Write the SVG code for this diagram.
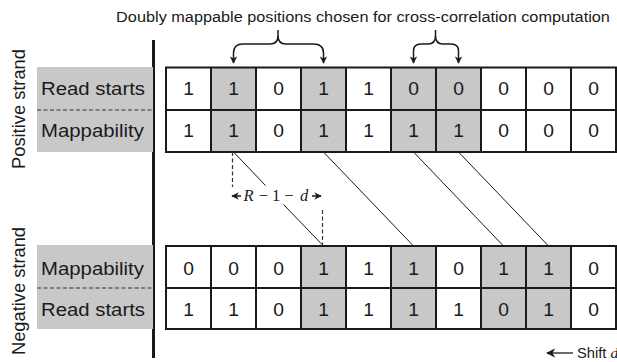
<svg xmlns="http://www.w3.org/2000/svg" width="617" height="362" viewBox="0 0 617 362">
  <defs>
    <style>
      .sans { font-family: "Liberation Sans", Arial, sans-serif; fill: #1a1a1a; }
      .lbl { font-size: 18.5px; }
      .num { font-size: 17.5px; text-anchor: middle; }
      .vert { font-size: 18.3px; text-anchor: middle; }
      .math { font-family: "Liberation Serif", "Times New Roman", serif; font-size: 16.5px; fill: #1a1a1a; text-anchor: middle; }
      .g { fill: #c8c8c8; }
      .lab { fill: #c8c8c8; }
      .dash { stroke: #333; stroke-width: 1.2; stroke-dasharray: 4 2.5; fill: none; }
      .thin { stroke: #1a1a1a; stroke-width: 1; fill: none; }
      .brace { stroke: #1a1a1a; stroke-width: 1.5; fill: none; marker-end: url(#ah); }
    </style>
    <marker id="ah" viewBox="0 0 10 10" refX="9" refY="5" markerWidth="5" markerHeight="5" orient="auto" markerUnits="strokeWidth">
      <path d="M0,0 L10,5 L0,10 L3,5 z" fill="#1a1a1a"/>
    </marker>
    <marker id="sh" viewBox="0 0 10 10" refX="9" refY="5" markerWidth="5" markerHeight="5" orient="auto" markerUnits="strokeWidth">
      <path d="M0,0 L10,5 L0,10 L3,5 z" fill="#1a1a1a"/>
    </marker>
    <marker id="big" viewBox="0 0 10 10" refX="9" refY="5" markerWidth="7" markerHeight="7" orient="auto" markerUnits="strokeWidth">
      <path d="M0,0 L10,5 L0,10 L3,5 z" fill="#1a1a1a"/>
    </marker>
  </defs>

  <rect width="617" height="362" fill="#ffffff"/>

  <g id="title">
    <text class="sans" font-size="14.8" text-anchor="middle" transform="translate(363,22) scale(1.1,1)">Doubly mappable positions chosen for cross-correlation computation</text>
  </g>

  <g id="strand-labels">
    <text class="sans vert" transform="translate(25,109) rotate(-90)">Positive strand</text>
    <text class="sans vert" transform="translate(25,291) rotate(-90)">Negative strand</text>
  </g>

  <g id="axis">
    <rect x="152" y="40" width="3" height="318" fill="#1a1a1a"/>
  </g>

  <g id="positive-labels">
    <rect class="lab" x="37" y="67" width="116" height="85"/>
    <line class="dash" x1="37" y1="110" x2="153" y2="110"/>
    <text class="sans lbl" transform="translate(41,95) scale(1.1,1)">Read starts</text>
    <text class="sans lbl" transform="translate(41,137) scale(1.1,1)">Mappability</text>
  </g>

  <g id="negative-labels">
    <rect class="lab" x="37" y="245" width="116" height="84"/>
    <line class="dash" x1="37" y1="288" x2="153" y2="288"/>
    <text class="sans lbl" transform="translate(41,275) scale(1.1,1)">Mappability</text>
    <text class="sans lbl" transform="translate(41,316) scale(1.1,1)">Read starts</text>
  </g>

  <g id="positive-grid">
    <rect class="g" x="211" y="67.5" width="45" height="84.5"/>
    <rect class="g" x="301" y="67.5" width="45" height="84.5"/>
    <rect class="g" x="391" y="67.5" width="90" height="84.5"/>
    <rect x="166" y="67.5" width="450" height="84.5" fill="none" stroke="#1a1a1a" stroke-width="2"/>
    <path d="M166,110 H616 M211,67.5 V152 M256,67.5 V152 M301,67.5 V152 M346,67.5 V152 M391,67.5 V152 M436,67.5 V152 M481,67.5 V152 M526,67.5 V152 M571,67.5 V152" stroke="#1a1a1a" stroke-width="2" fill="none"/>
    <g class="sans num">
      <text transform="translate(188.5,95) scale(1.1,1)">1</text>
      <text transform="translate(233.5,95) scale(1.1,1)">1</text>
      <text transform="translate(278.5,95) scale(1.1,1)">0</text>
      <text transform="translate(323.5,95) scale(1.1,1)">1</text>
      <text transform="translate(368.5,95) scale(1.1,1)">1</text>
      <text transform="translate(413.5,95) scale(1.1,1)">0</text>
      <text transform="translate(458.5,95) scale(1.1,1)">0</text>
      <text transform="translate(503.5,95) scale(1.1,1)">0</text>
      <text transform="translate(548.5,95) scale(1.1,1)">0</text>
      <text transform="translate(593.5,95) scale(1.1,1)">0</text>
      <text transform="translate(188.5,137) scale(1.1,1)">1</text>
      <text transform="translate(233.5,137) scale(1.1,1)">1</text>
      <text transform="translate(278.5,137) scale(1.1,1)">0</text>
      <text transform="translate(323.5,137) scale(1.1,1)">1</text>
      <text transform="translate(368.5,137) scale(1.1,1)">1</text>
      <text transform="translate(413.5,137) scale(1.1,1)">1</text>
      <text transform="translate(458.5,137) scale(1.1,1)">1</text>
      <text transform="translate(503.5,137) scale(1.1,1)">0</text>
      <text transform="translate(548.5,137) scale(1.1,1)">0</text>
      <text transform="translate(593.5,137) scale(1.1,1)">0</text>
    </g>
  </g>

  <g id="negative-grid">
    <rect class="g" x="301" y="246" width="45" height="83"/>
    <rect class="g" x="391" y="246" width="45" height="83"/>
    <rect class="g" x="481" y="246" width="90" height="83"/>
    <rect x="166" y="246" width="450" height="83" fill="none" stroke="#1a1a1a" stroke-width="2"/>
    <path d="M166,288 H616 M211,246 V329 M256,246 V329 M301,246 V329 M346,246 V329 M391,246 V329 M436,246 V329 M481,246 V329 M526,246 V329 M571,246 V329" stroke="#1a1a1a" stroke-width="2" fill="none"/>
    <g class="sans num">
      <text transform="translate(188.5,275) scale(1.1,1)">0</text>
      <text transform="translate(233.5,275) scale(1.1,1)">0</text>
      <text transform="translate(278.5,275) scale(1.1,1)">0</text>
      <text transform="translate(323.5,275) scale(1.1,1)">1</text>
      <text transform="translate(368.5,275) scale(1.1,1)">1</text>
      <text transform="translate(413.5,275) scale(1.1,1)">1</text>
      <text transform="translate(458.5,275) scale(1.1,1)">0</text>
      <text transform="translate(503.5,275) scale(1.1,1)">1</text>
      <text transform="translate(548.5,275) scale(1.1,1)">1</text>
      <text transform="translate(593.5,275) scale(1.1,1)">0</text>
      <text transform="translate(188.5,316) scale(1.1,1)">1</text>
      <text transform="translate(233.5,316) scale(1.1,1)">1</text>
      <text transform="translate(278.5,316) scale(1.1,1)">0</text>
      <text transform="translate(323.5,316) scale(1.1,1)">1</text>
      <text transform="translate(368.5,316) scale(1.1,1)">1</text>
      <text transform="translate(413.5,316) scale(1.1,1)">1</text>
      <text transform="translate(458.5,316) scale(1.1,1)">1</text>
      <text transform="translate(503.5,316) scale(1.1,1)">0</text>
      <text transform="translate(548.5,316) scale(1.1,1)">1</text>
      <text transform="translate(593.5,316) scale(1.1,1)">0</text>
    </g>
  </g>

  <g id="connectors">
    <path class="brace" d="M278,30 L278,36 Q278,44 270,44 L243,44 Q233.5,44 233.5,53 L233.5,63"/>
    <path class="brace" d="M278,36 Q278,44 286,44 L313,44 Q323.5,44 323.5,53 L323.5,63"/>
    <path class="brace" d="M435.5,30 L435.5,36 Q435.5,44 428,44 L421,44 Q413.5,44 413.5,51 L413.5,63"/>
    <path class="brace" d="M435.5,36 Q435.5,44 443,44 L451,44 Q458.5,44 458.5,51 L458.5,63"/>
    <path class="thin" d="M233.5,152 L265.5,185.5 M283.5,204.5 L323.5,246"/>
    <path class="thin" d="M323.5,152 L413.5,246"/>
    <path class="thin" d="M413.5,152 L503.5,246"/>
    <path class="thin" d="M458.5,152 L548.5,246"/>
    <line class="dash" x1="232.5" y1="152" x2="232.5" y2="187"/>
    <line class="dash" x1="322.5" y1="210" x2="322.5" y2="246"/>
    <line x1="241" y1="196" x2="232" y2="196" stroke="#1a1a1a" stroke-width="1.5" marker-end="url(#sh)"/>
    <line x1="312" y1="196" x2="321" y2="196" stroke="#1a1a1a" stroke-width="1.5" marker-end="url(#sh)"/>
    <line x1="573" y1="353" x2="547" y2="353" stroke="#1a1a1a" stroke-width="1.3" marker-end="url(#big)"/>
  </g>

  <g id="shift-label">
    <text class="math"><tspan x="248.5" y="201" font-style="italic">R</tspan><tspan x="263.5" y="201">−</tspan><tspan x="276" y="201">1</tspan><tspan x="289" y="201">−</tspan><tspan x="304" y="201" font-style="italic">d</tspan></text>
    <text class="sans" font-size="14" transform="translate(577,358) scale(1.05,1)">Shift <tspan font-family="Liberation Serif, serif" font-style="italic" font-size="15">d</tspan></text>
  </g>
</svg>
